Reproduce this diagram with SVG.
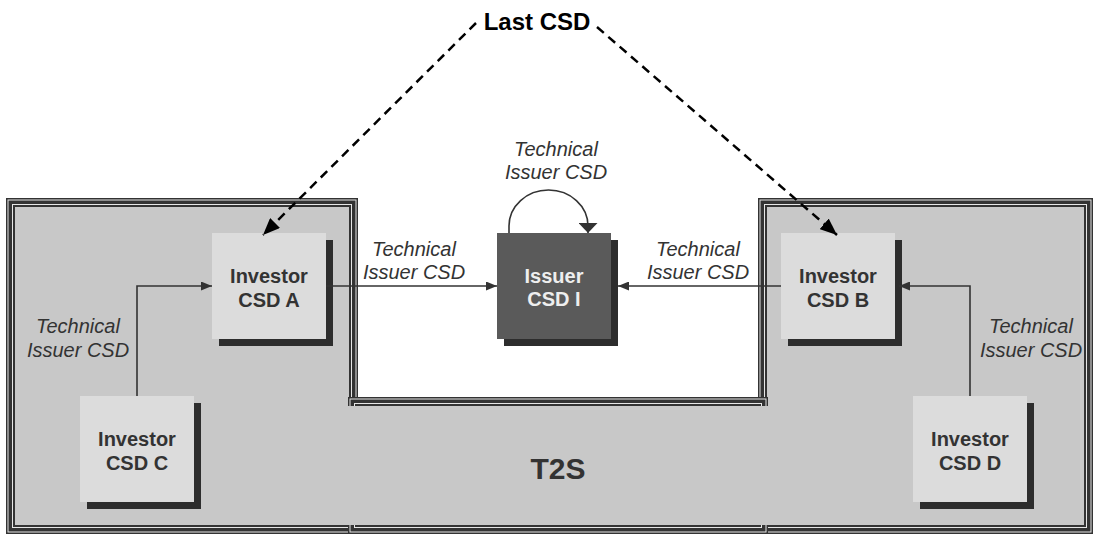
<svg xmlns="http://www.w3.org/2000/svg" width="1098" height="536" viewBox="0 0 1098 536">
<style>
text{font-family:"Liberation Sans",Arial,sans-serif;text-anchor:middle}
.lbl{font-size:20px;font-style:italic;fill:#333}
.nt{font-size:20px;font-weight:bold;fill:#333}
.nw{font-size:20px;font-weight:bold;fill:#eee}
.box{fill:#dcdcdc}
.sh{fill:#2d2d2d}
.dk{fill:#333}
.lt{fill:#e6e6e6}
.fl{fill:#c8c8c8}
.con{fill:none;stroke:#333;stroke-width:1.6}
.dash{fill:none;stroke:#000;stroke-width:2.5;stroke-dasharray:9 6}
</style>
<defs>
<marker id="ah" markerUnits="userSpaceOnUse" markerWidth="11" markerHeight="9" refX="11" refY="4.5" orient="auto"><path d="M0,0 L11,4.5 L0,9 z" fill="#333"/></marker>
<marker id="ahl" markerUnits="userSpaceOnUse" markerWidth="11" markerHeight="19" refX="10" refY="9.5" orient="auto"><path d="M0,0 L10,9.5 L0,19 z" fill="#333"/></marker>
<marker id="ahd" markerUnits="userSpaceOnUse" markerWidth="17" markerHeight="14" refX="17" refY="7" orient="auto"><path d="M0,0 L17,7 L0,14 z" fill="#000"/></marker>
</defs>
<rect width="1098" height="536" fill="#fff"/>
<g id="t2s">
<g id="t2s-left">
<rect class="dk" x="6" y="198" width="352" height="336"/>
<rect class="lt" x="7.5" y="199.5" width="349" height="333"/>
<rect class="dk" x="8.5" y="200.5" width="347" height="331"/>
<rect class="lt" x="12" y="204" width="340" height="324"/>
<rect class="dk" x="13" y="205" width="338" height="322"/>
<rect class="fl" x="15" y="207" width="334" height="318"/>
</g>
<g id="t2s-right">
<rect class="dk" x="758" y="198" width="335" height="336"/>
<rect class="lt" x="759.5" y="199.5" width="332" height="333"/>
<rect class="dk" x="760.5" y="200.5" width="330" height="331"/>
<rect class="lt" x="764" y="204" width="323" height="324"/>
<rect class="dk" x="765" y="205" width="321" height="322"/>
<rect class="fl" x="767" y="207" width="317" height="318"/>
</g>
<g id="t2s-mid">
<rect class="dk" x="348" y="397" width="420" height="137"/>
<rect class="lt" x="349.5" y="398.5" width="417" height="134"/>
<rect class="dk" x="350.5" y="399.5" width="415" height="132"/>
<rect class="lt" x="354" y="403" width="408" height="125"/>
<rect class="dk" x="355" y="404" width="406" height="123"/>
<rect class="fl" x="357" y="406" width="402" height="119"/>
</g>
<rect class="fl" x="340" y="406" width="436" height="119"/>
<text x="558" y="479" style="font-size:30px;font-weight:bold;fill:#333">T2S</text>
</g>
<g id="investor-a">
<rect class="sh" x="219" y="240" width="114" height="106"/>
<rect class="box" x="212" y="233" width="114" height="106"/>
<text class="nt" x="269" y="283">Investor</text>
<text class="nt" x="269" y="307">CSD A</text>
</g>
<g id="investor-b">
<rect class="sh" x="788" y="240" width="114" height="106"/>
<rect class="box" x="781" y="233" width="114" height="106"/>
<text class="nt" x="838" y="283">Investor</text>
<text class="nt" x="838" y="307">CSD B</text>
</g>
<g id="investor-c">
<rect class="sh" x="87" y="403" width="114" height="106"/>
<rect class="box" x="80" y="396" width="114" height="106"/>
<text class="nt" x="137" y="446">Investor</text>
<text class="nt" x="137" y="470">CSD C</text>
</g>
<g id="investor-d">
<rect class="sh" x="920" y="403" width="114" height="106"/>
<rect class="box" x="913" y="396" width="114" height="106"/>
<text class="nt" x="970" y="446">Investor</text>
<text class="nt" x="970" y="470">CSD D</text>
</g>
<g id="issuer-i">
<rect class="sh" x="504" y="240" width="114" height="106"/>
<rect x="497" y="233" width="114" height="106" fill="#5a5a5a"/>
<text class="nw" x="554" y="283">Issuer</text>
<text class="nw" x="554" y="306">CSD I</text>
</g>
<g id="last-csd">
<text x="537" y="30" style="font-size:24px;font-weight:bold;fill:#000">Last CSD</text>
</g>
<g id="connectors">
<path class="dash" d="M476,23 L263,235" marker-end="url(#ahd)"/>
<path class="dash" d="M597,27 L837,235" marker-end="url(#ahd)"/>
<path class="con" d="M326,286 H497" marker-end="url(#ah)"/>
<path class="con" d="M781,286 H618" marker-end="url(#ah)"/>
<path class="con" d="M137,396 V286 H212" marker-end="url(#ah)"/>
<path class="con" d="M970,396 V286 H899" marker-end="url(#ah)"/>
<path class="con" d="M509,233 V226 A39.5,36 0 0 1 588,226 V233" marker-end="url(#ahl)"/>
<text class="lbl" x="414" y="256">Technical</text>
<text class="lbl" x="414" y="279">Issuer CSD</text>
<text class="lbl" x="698" y="256">Technical</text>
<text class="lbl" x="698" y="279">Issuer CSD</text>
<text class="lbl" x="556" y="156">Technical</text>
<text class="lbl" x="556" y="179">Issuer CSD</text>
<text class="lbl" x="78" y="333">Technical</text>
<text class="lbl" x="78" y="357">Issuer CSD</text>
<text class="lbl" x="1031" y="333">Technical</text>
<text class="lbl" x="1031" y="357">Issuer CSD</text>
</g>
</svg>
